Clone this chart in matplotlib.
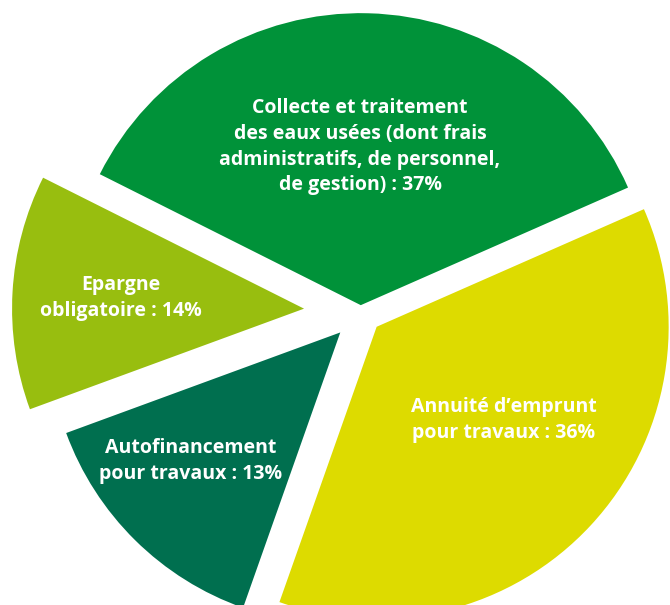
import matplotlib
matplotlib.use("Agg")
import matplotlib.pyplot as plt

# Printed labels (as they appear on the chart)
labels = [
    "Collecte et traitement\ndes eaux usées (dont frais\nadministratifs, de personnel,\nde gestion) : 37%",
    "Epargne\nobligatoire : 14%",
    "Autofinancement\npour travaux : 13%",
    "Annuité d\u2019emprunt\npour travaux : 36%",
]
# Slice sizes as drawn in the artwork (the drawn angles don't quite follow the printed %)
slice_sizes = [36, 13, 14, 37]
colors = ["#009239", "#98BE0F", "#006F4F", "#DDDB00"]
explode = [0.023, 0.194, 0.099, 0.075]

# label anchor points (data units, pie radius = 1)
label_x = [-0.002, -0.821, -0.581, 0.491]
label_y = [0.565, 0.048, -0.511, -0.370]

fig = plt.figure(figsize=(6.7, 6.05), dpi=100)
ax = fig.add_axes([0, 0, 1, 1])

wedges, _ = ax.pie(slice_sizes, colors=colors, explode=explode,
                   startangle=23.75, counterclock=True, radius=1.0,
                   wedgeprops=dict(linewidth=0))

for txt, x, y in zip(labels, label_x, label_y):
    ax.text(x, y, txt, ha="center", va="center", color="white",
            fontsize=14, fontweight="bold", family=["Open Sans", "DejaVu Sans"],
            linespacing=1.38)

ax.set_xlim(-1.235, 1.0596)
ax.set_ylim(-1.0038, 1.068)
ax.set_aspect("equal")
ax.axis("off")

fig.savefig("out.png", dpi=100, facecolor="white")
